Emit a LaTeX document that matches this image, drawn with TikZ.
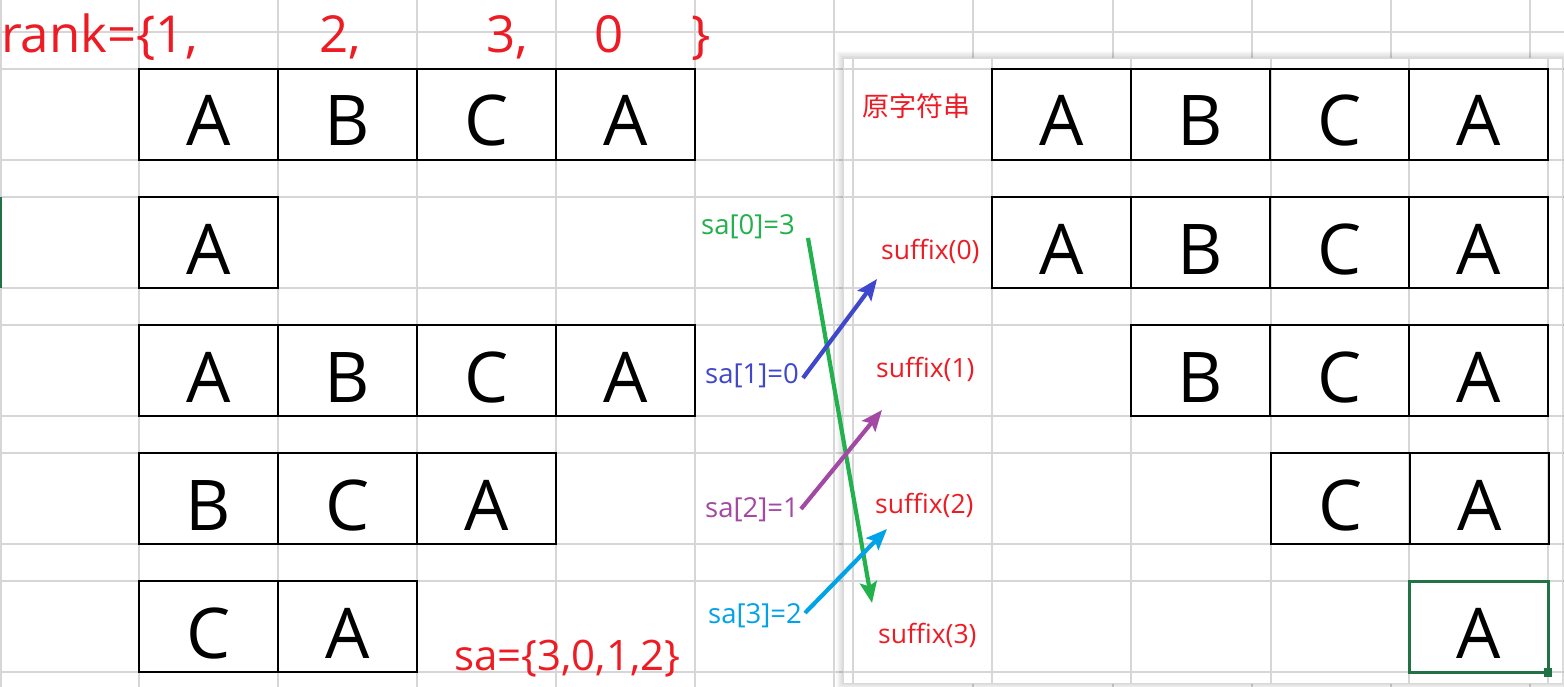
\documentclass[tikz,border=0pt]{standalone}
\usepackage{fontspec}
\setmainfont{Open Sans}
\newfontfamily\cjkfont{Noto Sans CJK SC}
\usetikzlibrary{arrows.meta}
\definecolor{gridgray}{RGB}{214,214,214}
\definecolor{xlred}{RGB}{237,28,36}
\definecolor{xlgreen}{RGB}{34,177,76}
\definecolor{xlblue}{RGB}{63,72,204}
\definecolor{xlpurple}{RGB}{163,73,164}
\definecolor{xlcyan}{RGB}{0,162,232}
\definecolor{selgreen}{RGB}{33,115,70}
\tikzset{
  gridline/.style={draw=gridgray, line width=1.2pt},
  cell/.style={draw=black, line width=1.3pt, minimum width=139pt, minimum height=91pt, inner sep=0pt, outer sep=0pt},
  letter/.style={font=\fontsize{70}{80}\selectfont, anchor=base, inner sep=0pt},
  bigred/.style={text=xlred, font=\fontsize{51}{60}\selectfont, anchor=base west, inner sep=0pt},
  midred/.style={text=xlred, font=\fontsize{42}{48}\selectfont, anchor=base west, inner sep=0pt},
  sufftxt/.style={text=xlred, font=\fontsize{26.5}{30}\selectfont, anchor=base west, inner sep=0pt},
  satxt/.style={font=\fontsize{27.5}{32}\selectfont, anchor=base west, inner sep=0pt},
  saarrow/.style={line width=4.2pt, -{Stealth[length=21pt, width=17pt, inset=4pt]}},
}
\newcommand\mkcellrow[4]{%
  \foreach \ch [count=\i from 0] in {#4} {%
    \node[cell] (#1-\i) at ({#3+139*\i+69.5},{#2+45.5}) {};
    \node[letter] (#1-\i-t) at ([yshift=14pt]#1-\i.south) {\ch};
  }}
\begin{document}
\begin{tikzpicture}[x=1pt,y=-1pt]
\useasboundingbox (0,0) rectangle (1564,687);
\fill[white] (0,0) rectangle (1564,687);
% sheet grid
\foreach \x in {1,139,278,417,556,695,834,973,1113,1252,1391,1530}
  \draw[gridline] (\x,0) -- (\x,687);
\foreach \y in {32,69,160,197,288,325,416,453,544,581,672}
  \draw[gridline] (0,\y) -- (1564,\y);
\draw[selgreen, line width=2.6pt] (0.5,197) -- (0.5,288);
% left tables
\mkcellrow{La}{69}{139}{A,B,C,A}
\mkcellrow{Lb}{197}{139}{A}
\mkcellrow{Lc}{325}{139}{A,B,C,A}
\mkcellrow{Ld}{453}{139}{B,C,A}
\mkcellrow{Le}{581}{139}{C,A}
% rank and sa
\node[bigred] (rank) at (1,53) {rank=\{1,};
\node[bigred] (r2) at (319,53) {2,};
\node[bigred] (r3) at (486,53) {3,};
\node[bigred] (r0) at (594,53) {0};
\node[bigred] (rend) at (691,53) {\}};
\node[midred] (salist) at (454,670) {sa=\{3,0,1,2\}};
% floating panel with soft shadow
\foreach \k in {1,...,9}
  \draw[black, opacity=0.016, line width=\k*1.5pt] (843,58) rectangle (1562,683);
\fill[white] (843,58) rectangle (1562,683);
\begin{scope}
  \clip (843,58) rectangle (1562,683);
  \foreach \x in {853,992,1131,1271,1409,1548}
    \draw[gridline] (\x,58) -- (\x,683);
  \foreach \y in {69,160,197,288,325,416,453,544,581,672}
    \draw[gridline] (843,\y) -- (1562,\y);
\end{scope}
\draw[gray!30, line width=0.7pt] (843,58) rectangle (1562,683);
\mkcellrow{Ra}{69}{992}{A,B,C,A}
\mkcellrow{Rb}{197}{992}{A,B,C,A}
\mkcellrow{Rc}{325}{1131}{B,C,A}
\mkcellrow{Rd}{453}{1271}{C,A}
\mkcellrow{Re}{581}{1409}{A}
\draw[selgreen, line width=3pt] (Re-0.north west) rectangle (Re-0.south east);
\fill[selgreen] ([shift={(-4.5pt,-4.5pt)}]Re-0.south east) rectangle ([shift={(4pt,4pt)}]Re-0.south east);
% panel labels
\node[text=xlred, font=\cjkfont\fontsize{27}{32}\selectfont, anchor=base west, inner sep=0pt] (orig) at (862,117) {原字符串};
\node[sufftxt] (s0) at (881,260) {suffix(0)};
\node[sufftxt] (s1) at (876,377) {suffix(1)};
\node[sufftxt] (s2) at (875,513) {suffix(2)};
\node[sufftxt] (s3) at (878,643) {suffix(3)};
% sa labels
\node[satxt, text=xlgreen] (sa0) at (701,235) {sa[0]=3};
\node[satxt, text=xlblue] (sa1) at (705,383) {sa[1]=0};
\node[satxt, text=xlpurple] (sa2) at (705,517) {sa[2]=1};
\node[satxt, text=xlcyan] (sa3) at (708,623) {sa[3]=2};
% arrow end points
\coordinate (g0) at (808,238);
\coordinate (g1) at (872,603);
\coordinate (b0) at (803,378);
\coordinate (b1) at (877,279);
\coordinate (p0) at (801,509);
\coordinate (p1) at (882,410);
\coordinate (c0) at (805,613);
\coordinate (c1) at (887,529);
\draw[saarrow, xlgreen] (g0) -- (g1);
\draw[saarrow, xlblue] (b0) -- (b1);
\draw[saarrow, xlpurple] (p0) -- (p1);
\draw[saarrow, xlcyan] (c0) -- (c1);
\end{tikzpicture}
\end{document}
